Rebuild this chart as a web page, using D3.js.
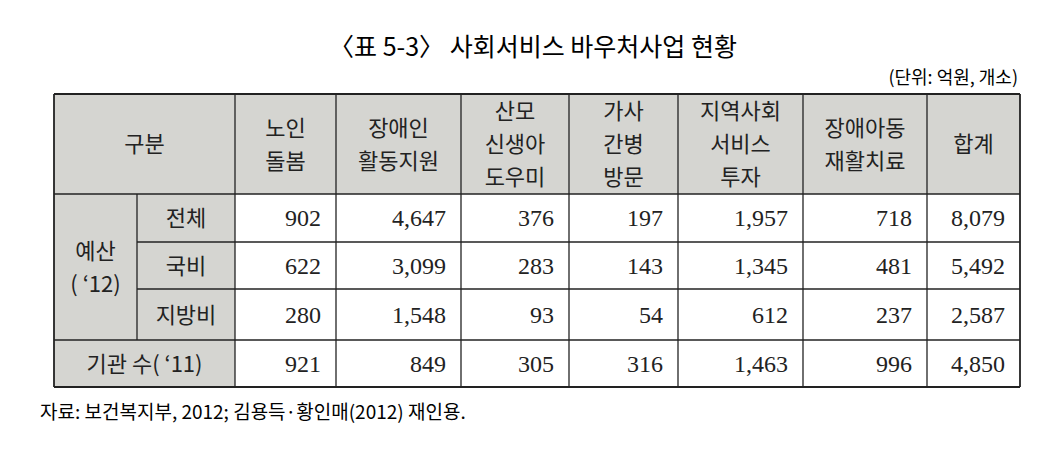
<!DOCTYPE html>
<html><head><meta charset="utf-8">
<script src="https://cdn.jsdelivr.net/npm/d3@7"></script>
<style>body{margin:0;background:#fff}</style>
</head><body>
<svg id="chart" width="1056" height="458"></svg>
<script>
const title = "〈표 5-3〉 사회서비스 바우처사업 현황";
const unit = "(단위: 억원, 개소)";
const source = "자료: 보건복지부, 2012; 김용득·황인매(2012) 재인용.";
const columns = [["노인", "돌봄"], ["장애인", "활동지원"], ["산모", "신생아", "도우미"], ["가사", "간병", "방문"], ["지역사회", "서비스", "투자"], ["장애아동", "재활치료"], ["합계"]];
const rowLabels = ["전체", "국비", "지방비", "기관 수( ‘11)"];
const values = [
  [902, 4647, 376, 197, 1957, 718, 8079],
  [622, 3099, 283, 143, 1345, 481, 5492],
  [280, 1548, 93, 54, 612, 237, 2587],
  [921, 849, 305, 316, 1463, 996, 4850]
];

const svg = d3.select("#chart");
const GRAY = "#d5d5d1";
const SANS = "'Noto Sans CJK KR', sans-serif";
const SERIF = "'Liberation Serif', serif";
const colEdges = [54, 137, 235, 336, 461, 569, 678, 803, 927, 1020];
const rowEdges = [94, 194, 242, 289, 340, 387];
const fmt = d3.format(",");

svg.append("text").attr("x", 533).attr("y", 56).attr("text-anchor", "middle")
  .style("font-family", SANS).style("font-size", "25px").text(title);
svg.append("text").attr("x", 1018).attr("y", 84).attr("text-anchor", "end")
  .style("font-family", SANS).style("font-size", "18px").text(unit);
svg.append("text").attr("x", 40).attr("y", 419)
  .style("font-family", SANS).style("font-size", "19px").text(source);

// gray label cells
svg.append("rect").attr("x", colEdges[0]).attr("y", rowEdges[0])
  .attr("width", colEdges[9] - colEdges[0]).attr("height", rowEdges[1] - rowEdges[0]).attr("fill", GRAY);
svg.append("rect").attr("x", colEdges[0]).attr("y", rowEdges[1])
  .attr("width", colEdges[2] - colEdges[0]).attr("height", rowEdges[5] - rowEdges[1]).attr("fill", GRAY);

const line = (x1, y1, x2, y2, w) => svg.append("line").attr("x1", x1).attr("y1", y1).attr("x2", x2).attr("y2", y2)
  .attr("stroke", "#222").attr("stroke-width", w || 1.3);

line(colEdges[0], rowEdges[0], colEdges[9], rowEdges[0], 1.8);
line(colEdges[0], rowEdges[5], colEdges[9], rowEdges[5], 1.8);
line(colEdges[0], rowEdges[1], colEdges[9], rowEdges[1]);
line(colEdges[1], rowEdges[2], colEdges[9], rowEdges[2]);
line(colEdges[1], rowEdges[3], colEdges[9], rowEdges[3]);
line(colEdges[0], rowEdges[4], colEdges[9], rowEdges[4]);
line(colEdges[0], rowEdges[0], colEdges[0], rowEdges[5], 1.8);
line(colEdges[9], rowEdges[0], colEdges[9], rowEdges[5], 1.8);
line(colEdges[1], rowEdges[1], colEdges[1], rowEdges[4]);
for (let i = 2; i < 9; i++) line(colEdges[i], rowEdges[0], colEdges[i], rowEdges[5]);

const cellText = (cx, cy, lines) => {
  const lh = 33;
  const t = svg.append("text").attr("text-anchor", "middle")
    .style("font-family", SANS).style("font-size", "22px").attr("fill", "#222");
  lines.forEach((s, i) => t.append("tspan").attr("x", cx)
    .attr("y", cy + (i - (lines.length - 1) / 2) * lh + 8).text(s));
};

cellText((colEdges[0] + colEdges[2]) / 2, (rowEdges[0] + rowEdges[1]) / 2, ["구분"]);
columns.forEach((c, i) => cellText((colEdges[i + 2] + colEdges[i + 3]) / 2, (rowEdges[0] + rowEdges[1]) / 2, c));
cellText((colEdges[0] + colEdges[1]) / 2, (rowEdges[1] + rowEdges[4]) / 2, ["예산", "( ‘12)"]);
rowLabels.slice(0, 3).forEach((r, i) => cellText((colEdges[1] + colEdges[2]) / 2, (rowEdges[i + 1] + rowEdges[i + 2]) / 2, [r]));
cellText((colEdges[0] + colEdges[2]) / 2, (rowEdges[4] + rowEdges[5]) / 2, [rowLabels[3]]);

values.forEach((row, r) => row.forEach((v, c) => {
  svg.append("text").attr("x", colEdges[c + 3] - 15).attr("y", (rowEdges[r + 1] + rowEdges[r + 2]) / 2 + 8)
    .attr("text-anchor", "end").style("font-family", SERIF).style("font-size", "24px").attr("fill", "#222")
    .text(fmt(v));
}));
</script>
</body></html>
